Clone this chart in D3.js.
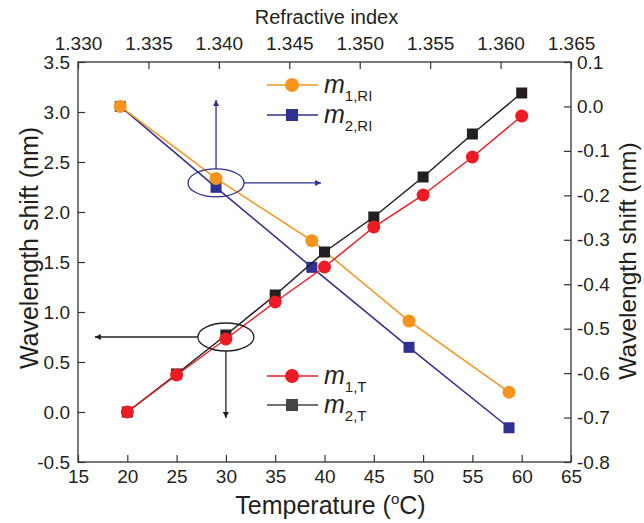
<!DOCTYPE html>
<meta charset="utf-8">
<style>
  body { margin: 0; background: #fff; }
  text { font-family: "Liberation Sans", Arial, sans-serif; fill: #231f20; }
</style>
<svg width="644" height="523"></svg>
<script src="https://d3js.org/d3.v7.min.js"></script>
<script>

// temperature series (bottom / left axes)
var temps = [20, 25, 30, 35, 40, 45, 50, 55, 60];
var m1T = [0.0, 0.37, 0.73, 1.10, 1.45, 1.85, 2.17, 2.55, 2.96];
var m2T = [0.0, 0.38, 0.77, 1.17, 1.60, 1.95, 2.35, 2.78, 3.19];

// refractive index series (top / right axes)
var ri = [1.3330, 1.3398, 1.3466, 1.3535, 1.3606];
var m1RI = [0.0, -0.162, -0.302, -0.483, -0.643];
var m2RI = [0.0, -0.182, -0.362, -0.542, -0.723];

var bottomTicks = d3.range(15, 66, 5);
var topTicks = [1.330, 1.335, 1.340, 1.345, 1.350, 1.355, 1.360, 1.365];
var leftTicks = [-0.5, 0, 0.5, 1, 1.5, 2, 2.5, 3, 3.5];
var rightTicks = [-0.8, -0.7, -0.6, -0.5, -0.4, -0.3, -0.2, -0.1, 0, 0.1];

var orange = "#f7941d", navy = "#2e3192", red = "#ed1c24", black = "#231f20";

var svg = d3.select("svg"),
    pL = 78, pR = 571, pT = 62, pB = 462;

var x = d3.scaleLinear().domain([15, 65]).range([pL, pR]),
    xTop = d3.scaleLinear().domain([1.330, 1.365]).range([pL, pR]),
    y = d3.scaleLinear().domain([-0.5, 3.5]).range([pB, pT]),
    yR = d3.scaleLinear().domain([-0.8, 0.1]).range([pB, pT]);

// arrow heads
var defs = svg.append("defs");
[["arrNavy", navy], ["arrBlack", black]].forEach(function(a) {
  defs.append("marker")
      .attr("id", a[0])
      .attr("viewBox", "0 0 10 10")
      .attr("refX", 10).attr("refY", 5)
      .attr("markerWidth", 9).attr("markerHeight", 6)
      .attr("markerUnits", "userSpaceOnUse")
      .attr("orient", "auto")
    .append("path")
      .attr("d", "M0,0L10,5L0,10Z")
      .attr("fill", a[1]);
});

function drawAxis(axis, minor, tr) {
  var g = svg.append("g").attr("transform", tr);
  g.call(minor);
  g.call(axis);
  g.selectAll("path.domain").remove();
  g.selectAll("line").attr("stroke", "#333").attr("stroke-width", 1.2);
  g.selectAll("text").style("font-size", "19px").attr("fill", "#231f20");
  return g;
}

var noFmt = function() { return ""; };
var f1 = function(d) { return d.toFixed(1); };

drawAxis(d3.axisBottom(x).tickValues(bottomTicks).tickSize(-7).tickPadding(8),
         d3.axisBottom(x).ticks(50).tickSize(-4).tickFormat(noFmt),
         "translate(0," + pB + ")");
drawAxis(d3.axisTop(xTop).tickValues(topTicks).tickFormat(function(d) { return d.toFixed(3); })
           .tickSize(-7).tickPadding(12),
         d3.axisTop(xTop).ticks(35).tickSize(-4).tickFormat(noFmt),
         "translate(0," + pT + ")");
drawAxis(d3.axisLeft(y).tickValues(leftTicks).tickFormat(f1).tickSize(-7).tickPadding(8),
         d3.axisLeft(y).ticks(40).tickSize(-4).tickFormat(noFmt),
         "translate(" + pL + ",0)");
drawAxis(d3.axisRight(yR).tickValues(rightTicks).tickFormat(f1).tickSize(-7).tickPadding(6),
         d3.axisRight(yR).ticks(45).tickSize(-4).tickFormat(noFmt),
         "translate(" + pR + ",0)");

svg.append("rect")
    .attr("x", pL).attr("y", pT)
    .attr("width", pR - pL).attr("height", pB - pT)
    .attr("fill", "none").attr("stroke", "#333").attr("stroke-width", 1.3);

// axis titles
svg.append("text").attr("x", (pL + pR) / 2 + 2).attr("y", 24)
    .attr("text-anchor", "middle").style("font-size", "20px").text("Refractive index");
var tt = svg.append("text").attr("x", (pL + pR) / 2 + 6).attr("y", 514)
    .attr("text-anchor", "middle").style("font-size", "25px");
tt.append("tspan").text("Temperature (");
tt.append("tspan").attr("dy", -10).style("font-size", "15px").text("o");
tt.append("tspan").attr("dy", 10).text("C)");
svg.append("text").attr("transform", "translate(38,248) rotate(-90)")
    .attr("text-anchor", "middle").style("font-size", "25px").text("Wavelength shift (nm)");
svg.append("text").attr("transform", "translate(636,261) rotate(-90)")
    .attr("text-anchor", "middle").style("font-size", "24.5px").text("Wavelength shift (nm)");

// series
var series = [
  {xs: ri, ys: m2RI, sx: xTop, sy: yR, color: navy, shape: "square", size: 11},
  {xs: ri, ys: m1RI, sx: xTop, sy: yR, color: orange, shape: "circle", size: 6.5},
  {xs: temps, ys: m2T, sx: x, sy: y, color: black, shape: "square", size: 11},
  {xs: temps, ys: m1T, sx: x, sy: y, color: red, shape: "circle", size: 6.5}
];

series.forEach(function(s) {
  var pts = s.xs.map(function(d, i) { return [s.sx(d), s.sy(s.ys[i])]; });
  svg.append("path")
      .attr("d", d3.line()(pts))
      .attr("fill", "none").attr("stroke", s.color).attr("stroke-width", 1.5);
  var g = svg.append("g").attr("fill", s.color);
  if (s.shape === "circle") {
    g.selectAll("circle").data(pts).enter().append("circle")
        .attr("cx", function(d) { return d[0]; })
        .attr("cy", function(d) { return d[1]; })
        .attr("r", s.size);
  } else {
    g.selectAll("rect").data(pts).enter().append("rect")
        .attr("x", function(d) { return d[0] - s.size / 2; })
        .attr("y", function(d) { return d[1] - s.size / 2; })
        .attr("width", s.size).attr("height", s.size);
  }
});

// ellipses with arrows
var e1x = xTop(ri[1]), e1y = yR((m1RI[1] + m2RI[1]) / 2);
svg.append("ellipse").attr("cx", e1x).attr("cy", e1y).attr("rx", 28).attr("ry", 14)
    .attr("fill", "none").attr("stroke", navy).attr("stroke-width", 1.3);
svg.append("line").attr("x1", e1x).attr("y1", e1y - 14).attr("x2", e1x).attr("y2", e1y - 83)
    .attr("stroke", navy).attr("stroke-width", 1.3).attr("marker-end", "url(#arrNavy)");
svg.append("line").attr("x1", e1x + 28).attr("y1", e1y).attr("x2", e1x + 105).attr("y2", e1y)
    .attr("stroke", navy).attr("stroke-width", 1.3).attr("marker-end", "url(#arrNavy)");

var e2x = x(temps[2]), e2y = y((m1T[2] + m2T[2]) / 2);
svg.append("ellipse").attr("cx", e2x).attr("cy", e2y).attr("rx", 28).attr("ry", 14)
    .attr("fill", "none").attr("stroke", black).attr("stroke-width", 1.3);
svg.append("line").attr("x1", e2x - 28).attr("y1", e2y).attr("x2", e2x - 131).attr("y2", e2y)
    .attr("stroke", black).attr("stroke-width", 1.3).attr("marker-end", "url(#arrBlack)");
svg.append("line").attr("x1", e2x).attr("y1", e2y + 14).attr("x2", e2x).attr("y2", e2y + 81)
    .attr("stroke", black).attr("stroke-width", 1.3).attr("marker-end", "url(#arrBlack)");

// legends
function legendRow(ly, color, shape, sub) {
  svg.append("line").attr("x1", 267).attr("x2", 318).attr("y1", ly).attr("y2", ly)
      .attr("stroke", color).attr("stroke-width", 1.5);
  if (shape === "circle") {
    svg.append("circle").attr("cx", 292).attr("cy", ly).attr("r", 7).attr("fill", color);
  } else {
    svg.append("rect").attr("x", 286).attr("y", ly - 6).attr("width", 12).attr("height", 12).attr("fill", color);
  }
  var t = svg.append("text").attr("x", 324).attr("y", ly + 8);
  t.append("tspan").style("font-size", "25px").style("font-style", "italic").text("m");
  t.append("tspan").attr("dy", 8).style("font-size", "15px").text(sub);
}
legendRow(85, orange, "circle", "1,RI");
legendRow(115, navy, "square", "2,RI");
legendRow(376, red, "circle", "1,T");
legendRow(405, "#444", "square", "2,T");

</script>
